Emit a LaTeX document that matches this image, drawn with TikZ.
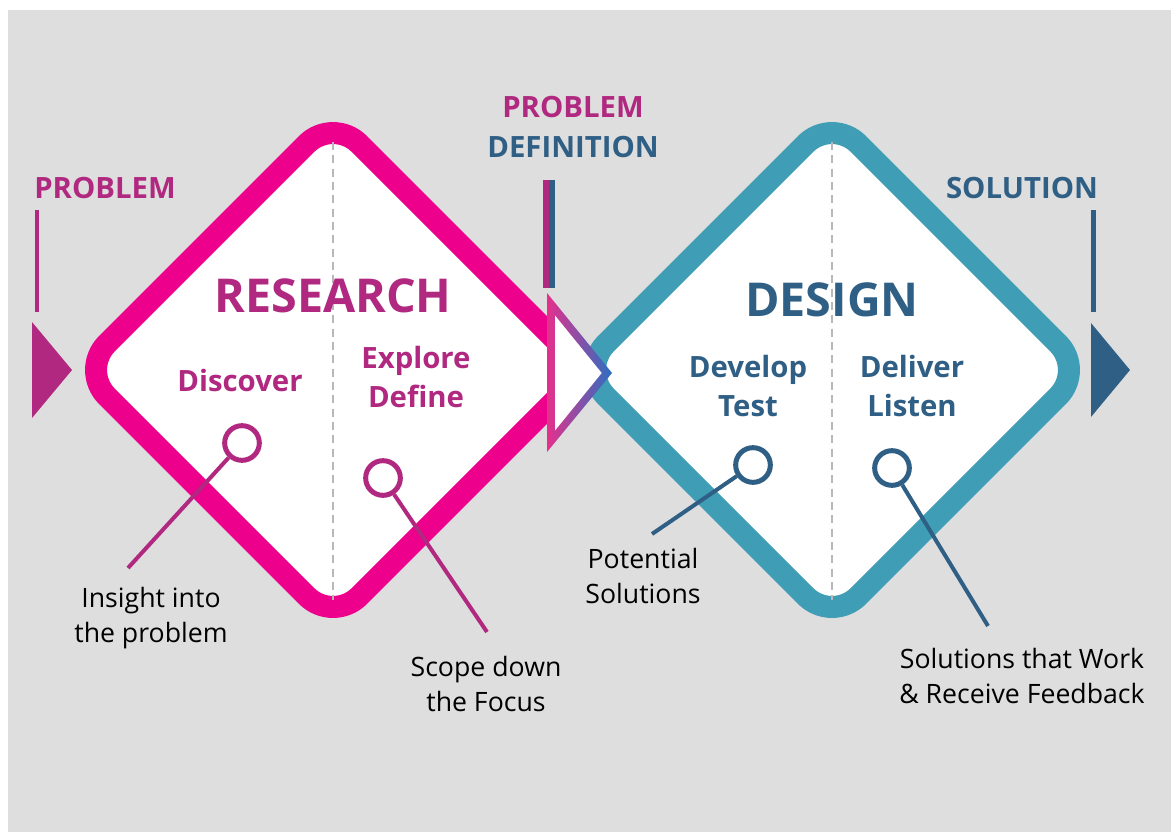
\documentclass[tikz,border=0pt]{standalone}
\usepackage{fontspec}
\setmainfont{Open Sans}
\usepackage{xcolor}
\usepackage{tikz}
\usetikzlibrary{positioning}

\definecolor{bggray}{HTML}{DEDEDE}
\definecolor{hotpink}{HTML}{EC008C}
\definecolor{plum}{HTML}{B0287F}
\definecolor{designteal}{HTML}{3F9DB5}
\definecolor{slate}{HTML}{2F5F85}
\definecolor{gradpink}{HTML}{E4308C}
\definecolor{gradblue}{HTML}{2A70C2}
\definecolor{dashgray}{HTML}{B8B8B8}

\tikzset{
  phase/.style={line width=16.5pt, rounded corners=28pt, fill=white},
  divider/.style={draw=dashgray, line width=0.9pt, dash pattern=on 6pt off 4pt},
  ring/.style={circle, draw, fill=white, line width=3.75pt, minimum size=26pt, inner sep=0pt},
  lead/.style={line width=3pt},
  bigtitle/.style={font=\fontsize{35}{40}\selectfont\bfseries, inner sep=0pt},
  marker/.style={font=\fontsize{22}{29}\selectfont\bfseries, inner sep=0pt},
  stage/.style={font=\fontsize{22}{29}\selectfont\bfseries, align=center, inner sep=0pt},
  note/.style={font=\fontsize{20}{26.5}\selectfont, align=center, inner sep=0pt, text=black}
}

\begin{document}
\begin{tikzpicture}[x=0.75pt,y=0.75pt,yscale=-1,xscale=1]

\useasboundingbox (0,0) rectangle (1171,832);
\fill[white] (0,0) rectangle (1171,832);
\fill[bggray] (8,10) rectangle (1171,832);

% the two phases
\draw[phase, draw=hotpink] (459.2,243.8) -- (585.4,370) -- (333,622.4) -- (80.6,370) -- (333,117.6) -- cycle;
\draw[phase, draw=designteal] (958.2,243.8) -- (1084.4,370) -- (832,622.4) -- (579.6,370) -- (832,117.6) -- cycle;

\draw[divider] (333,142) -- (333,600);
\draw[divider] (832,142) -- (832,600);

% start, middle and end markers
\fill[plum] (35,210) rectangle (39,312);
\fill[plum] (32,322) -- (72,370) -- (32,418) -- cycle;

\fill[plum] (543,180) rectangle (549,288);
\fill[slate] (549,180) rectangle (555,288);
\shade[left color=gradpink, right color=gradblue] (547,293) -- (612,373) -- (547,452) -- cycle;
\fill[white] (555,315.5) -- (601.7,373) -- (555,430.5) -- cycle;

\fill[slate] (1091,210) rectangle (1096,312);
\fill[slate] (1091,323) -- (1130,370) -- (1091,417) -- cycle;

\node[marker, text=plum] (problem) at (105,188) {PROBLEM};
\node[marker, text=plum] (pdefa) at (573,107) {PROBLEM};
\node[marker, text=slate] (pdefb) at (573,147) {DEFINITION};
\node[marker, text=slate] (solution) at (1022,188) {SOLUTION};

% titles and stages
\node[bigtitle, text=plum] (research) at (333,296) {RESEARCH};
\node[bigtitle, text=slate] (design) at (832,300) {DESIGN};

\node[stage, text=plum] (discover) at (240,380) {Discover};
\node[stage, text=plum] (explore) at (416,377) {Explore\\Define};
\node[stage, text=slate] (develop) at (748,386) {Develop\\Test};
\node[stage, text=slate] (deliver) at (912,386) {Deliver\\Listen};

% outcomes
\node[ring, draw=plum] (discring) at (242,443) {};
\node[ring, draw=plum] (explring) at (383,478) {};
\node[ring, draw=slate] (devring) at (753,465) {};
\node[ring, draw=slate] (delring) at (892,468) {};

\coordinate (discend) at (128,568);
\coordinate (explend) at (487,632);
\coordinate (devend) at (652,534);
\coordinate (delend) at (988,626);

\draw[lead, plum] (discring) -- (discend);
\draw[lead, plum] (explring) -- (explend);
\draw[lead, slate] (devring) -- (devend);
\draw[lead, slate] (delring) -- (delend);

\node[note] (insight) at (151,618) {Insight into\\the problem};
\node[note] (scope) at (486,684) {Scope down\\the Focus};
\node[note] (potential) at (643,576) {Potential\\Solutions};
\node[note] (works) at (1022,676) {Solutions that Work\\\& Receive Feedback};

\end{tikzpicture}
\end{document}
